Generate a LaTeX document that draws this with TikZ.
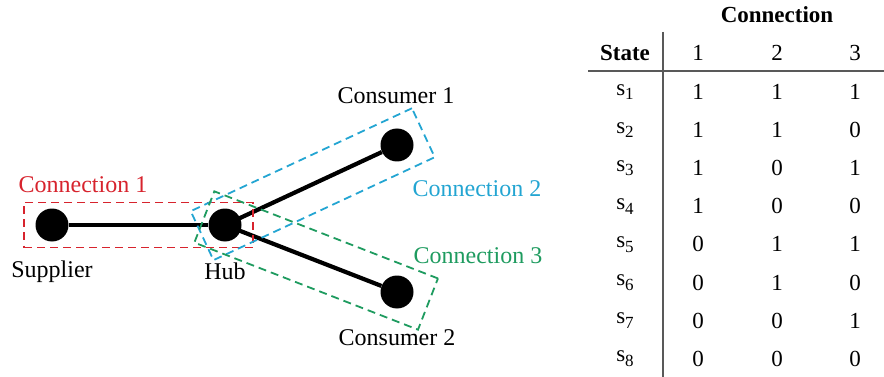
\documentclass[tikz,border=0pt]{standalone}
\usepackage{fontspec}
\setmainfont{Liberation Serif}
\definecolor{connred}{RGB}{215,35,45}
\definecolor{conncyan}{RGB}{35,165,210}
\definecolor{conngreen}{RGB}{30,155,95}
\newcommand{\statesub}[1]{s\raisebox{-0.45ex}{\fontsize{17}{20}\selectfont #1}}
\tikzset{
  dot/.style={circle, fill=black, inner sep=0pt, minimum size=33pt},
  link/.style={line width=4.2pt},
  connbox/.style={draw, dash pattern=on 8pt off 5pt, line width=1.8pt, inner sep=0pt},
  lbl/.style={font=\fontsize{24}{28}\selectfont},
  cell/.style={font=\fontsize{23}{27}\selectfont},
  head/.style={font=\fontsize{23}{27}\selectfont\bfseries},
  rule/.style={line width=1.4pt, draw=black!65},
}
\begin{document}
\begin{tikzpicture}[x=1pt,y=-1pt]
      \useasboundingbox (0,0) rectangle (884,377);
      % network
      \node[dot] (sup) at (52,225) {};
      \node[dot] (hub) at (225,225) {};
      \node[dot] (c1) at (397,145) {};
      \node[dot] (c2) at (397,292) {};
      \draw[link] (sup) -- (hub);
      \draw[link] (hub.center) -- (c1);
      \draw[link] (hub.center) -- (c2);
      \node[lbl] (supl) at (52,272) {Supplier};
      \node[lbl] (hubl) at (225,271) {Hub};
      \node[lbl] (c1l) at (396,96) {Consumer 1};
      \node[lbl] (c2l) at (397,338) {Consumer 2};
      % connections
      \path (sup.center) -- (hub.center)
        node[midway, connbox, draw=connred, minimum width=229pt, minimum height=45pt] (box1) {};
      \path (hub.center) -- (c1.center)
        node[pos=0.51, sloped, connbox, draw=conncyan, minimum width=244pt, minimum height=54pt] (box2) {};
      \path (hub.center) -- (c2.center)
        node[pos=0.53, sloped, connbox, draw=conngreen, minimum width=240pt, minimum height=55pt] (box3) {};
      \node[lbl, text=connred] (lab1) at (83,185) {Connection 1};
      \node[lbl, text=conncyan] (lab2) at (477,189) {Connection 2};
      \node[lbl, text=conngreen] (lab3) at (478,256) {Connection 3};
      % state table
      \node[head] (conn) at (777,15) {Connection};
      \node[head] (state) at (625,53) {State};
      \foreach \c/\x in {1/698,2/777,3/855}
        \node[cell] (h\c) at (\x,53) {\c};
      \foreach \a/\b/\c [count=\r] in {1/1/1,1/1/0,1/0/1,1/0/0,0/1/1,0/1/0,0/0/1,0/0/0} {
        \pgfmathsetmacro\y{92+38.1*(\r-1)}
        \node[cell] (s\r) at (625,\y) {\statesub{\r}};
        \node[cell] (v\r-1) at (698,\y) {\a};
        \node[cell] (v\r-2) at (777,\y) {\b};
        \node[cell] (v\r-3) at (855,\y) {\c};
      }
      \coordinate (vtop) at (663,32);
      \coordinate (vbot) at (663,377);
      \coordinate (hleft) at (588,71);
      \coordinate (hright) at (884,71);
      \draw[rule] (vtop) -- (vbot);
      \draw[rule] (hleft) -- (hright);
    \end{tikzpicture}
\end{document}
